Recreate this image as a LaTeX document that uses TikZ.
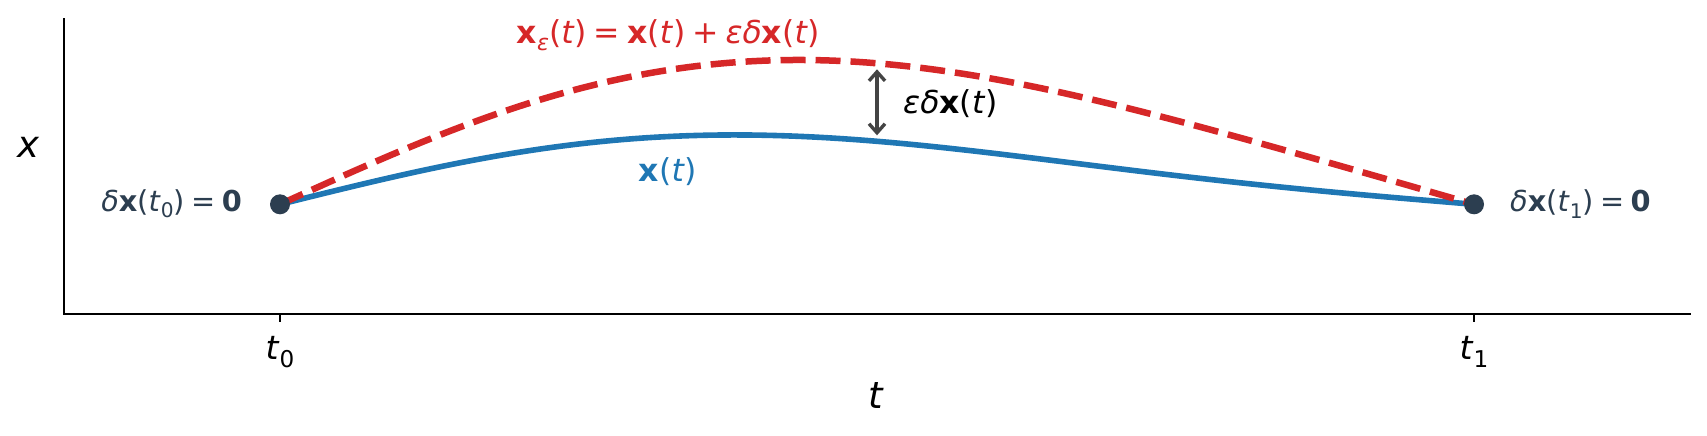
\documentclass[tikz,border=0pt]{standalone}
\usepackage{fontspec}
\usepackage{graphicx}
\setmainfont{DejaVu Sans}
\usetikzlibrary{arrows.meta}
\definecolor{tred}{HTML}{D62728}
\definecolor{tblue}{HTML}{1F77B4}
\definecolor{slate}{HTML}{2C3E50}
\definecolor{agray}{HTML}{444444}
\newcommand{\vx}{\textbf{x}}
\newcommand{\vt}{\textit{t}}
\newcommand{\sbs}[1]{\raisebox{-0.22em}{\scalebox{0.7}{#1}}}
\newcommand{\rel}[1]{\hspace{0.22em}#1\hspace{0.22em}}
\tikzset{
  spine/.style={line width=2pt, black},
  tickmark/.style={line width=2pt, black},
  ann/.style={inner sep=0pt, font=\fontsize{31.5}{36}\selectfont},
  bclab/.style={inner sep=0pt, font=\fontsize{28.8}{34}\selectfont},
  ticklab/.style={inner sep=0pt, font=\fontsize{33}{38}\selectfont},
  axlab/.style={inner sep=0pt, font=\fontsize{37}{42}\selectfont},
  dot/.style={circle, fill=slate, minimum size=20pt, inner sep=0pt},
  basecurve/.style={tblue, line width=5.6pt},
  varcurve/.style={tred, line width=6.5pt, dash pattern=on 25pt off 10pt},
  gaparrow/.style={agray, line width=3.4pt, {Straight Barb[length=9pt,width=16pt]}-{Straight Barb[length=9pt,width=16pt]}, shorten <=6pt, shorten >=6pt}
}
\begin{document}
\begin{tikzpicture}[x=1pt, y=-1pt]
\useasboundingbox (0,0) rectangle (1707,436);
% axes
\coordinate (origin) at (64,314);
\coordinate (ytop) at (64,19);
\coordinate (xend) at (1690,314);
\draw[spine, line cap=rect] (ytop) -- (origin) -- (xend);
\coordinate (tick0) at (280,314);
\coordinate (tick1) at (1474,314);
\draw[tickmark] (tick0) -- ++(0,8);
\draw[tickmark] (tick1) -- ++(0,8);
\node[ticklab] (t0lab) at (280,352) {\vt\sbs{0}};
\node[ticklab] (t1lab) at (1474,352) {\vt\sbs{1}};
\node[axlab] (tlab) at (876,396) {\vt};
\node[axlab] (xlab) at (29,147) {\textit{x}};
% curves
\draw[basecurve] plot[domain=0:1, samples=120, variable=\s, smooth]
  ({280+1194*\s}, {204.3-63*sin(180*\s)-15.75*sin(360*\s)});
\draw[varcurve] plot[domain=0:1, samples=120, variable=\s, smooth]
  ({280+1194*\s}, {204.3-141*sin(180*\s)-15.75*sin(360*\s)});
% endpoints
\node[dot] (p0) at (280,204.3) {};
\node[dot] (p1) at (1474,204.3) {};
% arrow
\coordinate (rtop) at (877,63.3);
\coordinate (bbot) at (877,141.3);
\draw[gaparrow] (bbot) -- (rtop);
% labels
\node[ann, tred] (title) at (668.5,35) {\vx\sbs{\textit{ε}}(\vt)\rel{=}\vx(\vt)\rel{+}\textit{εδ}\vx(\vt)};
\node[ann, anchor=west] (eps) at (903,104) {\textit{εδ}\vx(\vt)};
\node[ann, tblue] (xt) at (668,172) {\vx(\vt)};
\node[bclab, slate, anchor=east] (bc0) at (242,204) {\textit{δ}\vx(\vt\sbs{0})\rel{=}\textbf{0}};
\node[bclab, slate, anchor=west] (bc1) at (1510,204) {\textit{δ}\vx(\vt\sbs{1})\rel{=}\textbf{0}};
\end{tikzpicture}
\end{document}
